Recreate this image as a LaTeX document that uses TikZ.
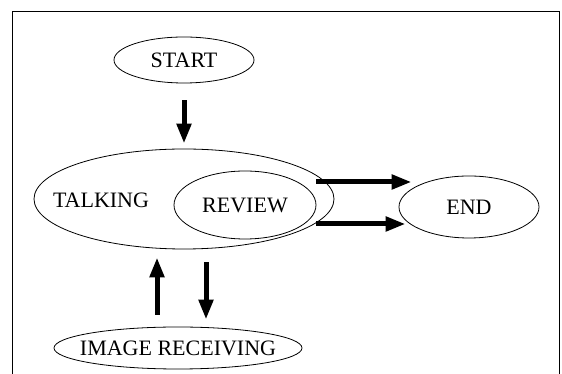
\documentclass[tikz,border=0pt]{standalone}
\usepackage{fontspec}
\setmainfont{Liberation Serif}
\usetikzlibrary{shapes.geometric,arrows.meta}

\begin{document}
\begin{tikzpicture}[x=1pt, y=1pt, font=\fontsize{22}{26}\selectfont,
		state/.style = {draw, ellipse, inner sep=0pt, line width=0.8pt},
		flow/.style = {line width=5pt, -{Triangle[length=20pt, width=14pt]}}]
		\useasboundingbox (0,0) rectangle (562,374);
		\draw[line width=0.8pt] (12,0) -- (12,363) -- (559,363) -- (559,0);
		\node[state, minimum width=140pt, minimum height=46pt] (start) at (184,314) {START};
		\node[state, minimum width=300pt, minimum height=100pt] (talking) at (184,175) {};
		\node (talkinglbl) at (101,174) {TALKING};
		\node[state, minimum width=142pt, minimum height=68pt] (review) at (245,169) {REVIEW};
		\node[state, minimum width=140pt, minimum height=62pt] (end) at (469,167) {END};
		\node[state, inner xsep=-18pt, minimum width=248pt, minimum height=42pt] (image) at (178,26) {IMAGE\ RECEIVING};
		\draw[flow, shorten <=17pt, shorten >=5pt] (start) -- (talking);
		\draw[flow, shorten >=-13pt] ([yshift=23pt]review.east) -- ([yshift=25pt]end.west);
		\draw[flow, shorten >=-7pt] ([yshift=-19pt]review.east) -- ([yshift=-17pt]end.west);
		\draw[flow, shorten <=12pt, shorten >=8pt] ([xshift=-21pt]image.north) -- ([xshift=-27pt]talking.south);
		\draw[flow, shorten <=13pt, shorten >=7pt] ([xshift=22pt]talking.south) -- ([xshift=28pt]image.north);
	\end{tikzpicture}
\end{document}
